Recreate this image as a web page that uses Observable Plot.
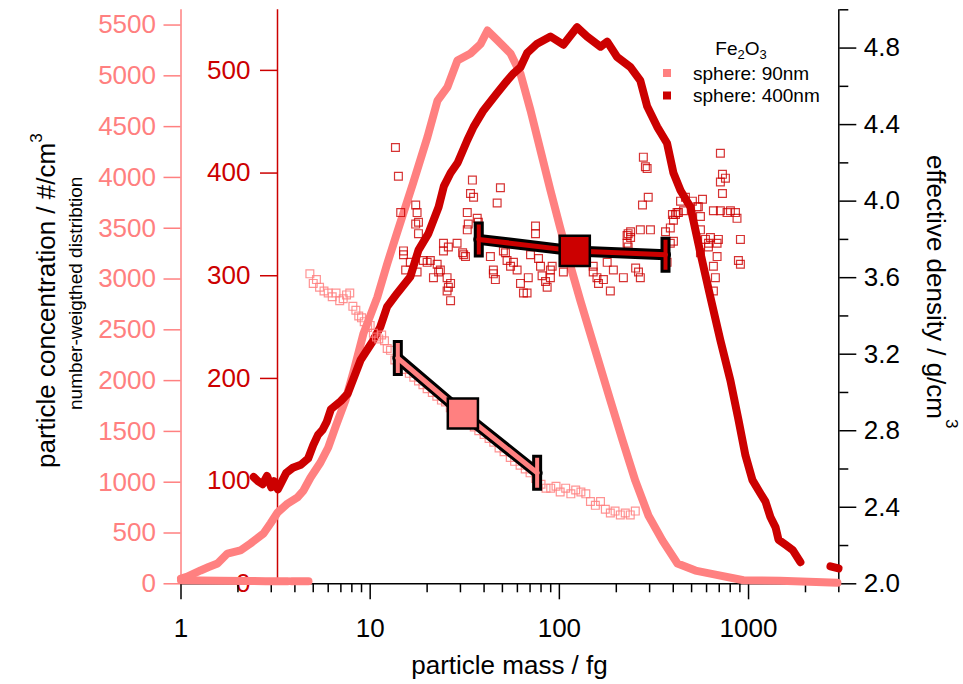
<!DOCTYPE html>
<html><head><meta charset="utf-8">
<script src="https://cdn.jsdelivr.net/npm/d3@7"></script>
<script src="https://cdn.jsdelivr.net/npm/@observablehq/plot@0.6"></script>
<style>body{margin:0;background:#fff} svg{display:block}</style>
</head><body><div id="chart"></div>
<script>
// ---------- data ----------
// 90 nm sphere: number-weighted distribution (particle concentration, #/cm3)
const pinkMass = [1.0,1.08,1.27,1.4,1.56,1.76,2.06,2.33,2.73,2.97,3.24,3.66,4.13,4.44,4.84,5.46,6.0,6.6,7.4,8.2,9.22,10.9,12.3,13.9,16.9,20.1,22.7,25.6,28.9,33.9,38.3,41.7,47.1,55.2,62.3,70.4,79.5,89.8,101,115,129,155,186,216,252,296,351,421,524,629,940,1470,2950];
const pinkConc = [52,70,131,165,200,298,328,397,495,594,702,790,850,918,1046,1194,1342,1560,1805,2100,2465,2820,3150,3460,3950,4400,4757,4888,5150,5220,5312,5446,5350,5220,5020,4660,4265,3870,3505,3115,2790,2295,1805,1410,1015,670,425,200,130,100,35,30,10];
const pinkFlat1Mass = [1.0,1.6,2.2,2.8,3.67];
const pinkFlat1Conc = [35,30,28,25,25];
const pinkFlat2Mass = [3.84,4.72];
const pinkFlat2Conc = [25,25];

// 400 nm sphere: number-weighted distribution (inner dark red axis)
const redMass = [2.42,2.55,2.7,2.85,3.0,3.1,3.25,3.4,3.6,3.9,4.3,4.7,5.0,5.3,5.6,5.9,6.2,7.0,7.6,8.9,10.3,11.3,12.3,13.9,16.3,18.0,20.3,23.0,24.5,26.6,29,32.6,35.2,39.7,46.9,53,57.2,62.3,67.6,76.3,89.8,105,124,140,165,179,202,238,268,291,329,371,401,437,493,557,629,710,802,884,963,1049,1156,1229,1305,1390,1440,1570,1710,1880];
const redConc = [104,100,97,105,94,100,92,99,108,113,116,122,135,145,150,158,170,178,185,218,236,250,270,283,299,325,341,367,387,400,410,432,445,461,478,490,497,503,517,526,533,525,542,533,523,528,513,503,490,465,445,429,400,383,367,322,279,237,198,160,125,101,88,80,65,55,43,38,33,21];
const redTailMass = [2710,2990];
const redTailConc = [17,15];

// effective density scatter (g/cm3)
const pinkScatterMass = [4.8,5.0,5.2,5.4,5.7,6.0,6.3,6.6,6.9,7.2,7.5,7.8,8.1,8.4,8.7,9.0,9.3,9.7,10.0,10.4,10.8,11.1,11.5,11.9,12.3,12.8,13.5,14.3,15.2,16.1,17.0,18.0,19.0,20.0,21.3,22.5,23.8,25.0,26.5,28.0,30,31.7,33.5,35.5,37.5,40,42.5,45,48,51,55,58,62,66,70,75,80,85,90,96,101,108,115,122,130,138,146,155,165,175,186,197,210,223,237,252];
const pinkScatterDen = [3.62,3.57,3.59,3.55,3.53,3.52,3.50,3.52,3.48,3.49,3.51,3.52,3.45,3.43,3.40,3.39,3.37,3.34,3.35,3.31,3.29,3.28,3.30,3.27,3.23,3.22,3.17,3.15,3.12,3.10,3.08,3.06,3.04,3.02,3.00,2.98,2.96,2.95,2.92,2.90,2.88,2.86,2.84,2.82,2.80,2.78,2.76,2.74,2.71,2.69,2.66,2.64,2.62,2.60,2.58,2.55,2.52,2.50,2.50,2.51,2.48,2.50,2.47,2.49,2.48,2.47,2.43,2.41,2.43,2.39,2.37,2.38,2.36,2.37,2.36,2.38];
const redScatterMass = [13.6,14.1,14.5,15.0,15.0,15.4,16.3,17.4,17.7,18.0,17.4,18.0,17.7,19.1,20.0,20.8,21.6,22.6,23.0,23.5,24.4,24.4,25.5,25.5,25.9,25.9,26.6,26.6,28.8,30.8,31.2,31.9,32.6,32.6,33.0,33.9,34.7,35.2,36.8,37.3,43.2,44.8,44.8,45.9,46.9,48.8,50.6,51.9,52.9,55.2,57.2,59.8,62.3,64.6,67.5,68.5,70.4,74.8,74.8,77.6,79.5,81.0,84.5,86.2,89.7,89.7,91.6,105,110,134,151,151,158,161,171,179,186,193,218,228,231,231,238,238,228,253,262,268,268,275,278,285,291,295,303,364,371,386,386,396,401,401,411,419,426,437,453,464,505,534,543,557,557,557,571,592,614,614,629,652,652,652,668,682,682,693,710,728,755,710,728,710,770,802,853,869,884,906,906];
const redScatterDen = [4.28,4.13,3.94,3.74,3.72,3.64,3.68,3.98,3.94,3.89,3.88,3.83,3.63,3.69,3.68,3.69,3.60,3.67,3.63,3.64,3.74,3.78,3.60,3.53,3.76,3.55,3.57,3.48,3.78,3.73,3.72,3.71,3.85,3.94,3.88,4.04,4.11,4.02,3.91,3.89,3.71,3.64,3.62,3.59,3.99,4.07,3.74,3.73,3.69,3.66,3.68,3.64,3.57,3.52,3.52,3.60,3.72,3.87,3.83,3.70,3.66,3.61,3.58,3.55,3.64,3.60,3.66,3.63,3.68,3.69,3.66,3.63,3.60,3.57,3.59,3.68,3.53,3.64,3.60,3.82,3.76,3.83,3.84,3.81,3.78,3.65,3.63,3.60,3.85,3.98,4.23,4.18,4.17,4.02,3.85,3.84,3.68,3.78,3.86,3.93,3.90,3.79,3.93,3.94,3.94,4.00,3.95,4.02,4.00,3.97,3.97,3.92,3.85,3.73,4.01,3.80,3.76,3.78,3.81,3.95,3.66,3.53,3.60,3.78,3.71,3.80,4.25,4.14,4.12,4.10,4.04,3.95,3.94,3.95,3.94,3.91,3.69,3.80,3.67];

// mean effective density with range (low, mean, high)
const fit90Mass = [14.0, 30.9, 76.3];
const fit90Den = [3.18, 2.89, 2.58];
const fit400Mass = [37.5, 120.6, 364];
const fit400Den = [3.80, 3.74, 3.72];

// ticks
const xMajor = [1,10,100,1000];
const xMinor = [2,3,4,5,6,7,8,9,20,30,40,50,60,70,80,90,200,300,400,500,600,700,800,900,2000,3000];
const pinkTicks = [0,500,1000,1500,2000,2500,3000,3500,4000,4500,5000,5500];
const redTicks = [0,100,200,300,400,500];
const denTicks = [2.0,2.4,2.8,3.2,3.6,4.0,4.4,4.8];
const denMinor = [2.2,2.6,3.0,3.4,3.8,4.2,4.6,5.0];

// ---------- scales / helpers ----------
const PINK = "#FF8080", RED = "#CC0000";
const FONT = "'Liberation Sans', Arial, Helvetica, sans-serif";
const Y_MAX = 5650, RED_MAX = 559, D_MIN = 2, D_MAX = 5;
const redK = Y_MAX / RED_MAX, denK = Y_MAX / (D_MAX - D_MIN);
const fromRed = c => c * redK, fromDen = d => (d - D_MIN) * denK;

const zip = (ms, vs) => ms.map((m, i) => ({m, v: vs[i]}));
const pinkCurve = zip(pinkMass, pinkConc);
const pinkFlat = [...zip(pinkFlat1Mass, pinkFlat1Conc).map(d => ({...d, z: 1})), ...zip(pinkFlat2Mass, pinkFlat2Conc).map(d => ({...d, z: 2}))];
const redCurve = [...zip(redMass, redConc).map(d => ({...d, z: 1})), ...zip(redTailMass, redTailConc).map(d => ({...d, z: 2}))];
const pinkScatter = zip(pinkScatterMass, pinkScatterDen);
const redScatter = zip(redScatterMass, redScatterDen);
const fit90 = zip(fit90Mass, fit90Den);
const fit400 = zip(fit400Mass, fit400Den);

const capSymbol = {draw(ctx) { ctx.moveTo(-3.5, -16.5); ctx.lineTo(3.5, -16.5); ctx.lineTo(3.5, 16.5); ctx.lineTo(-3.5, 16.5); ctx.closePath(); }};

function fitMarks(data, color) {
  const ends = [data[0], data[2]];
  const ctr = [data[1]];
  const y = d => fromDen(d.v);
  return [
    Plot.line(data, {x: "m", y, stroke: "#000", strokeWidth: 11}),
    Plot.dot(ends, {x: "m", y, symbol: capSymbol, r: 1, fill: color, stroke: "#000", strokeWidth: 3}),
    Plot.line(data, {x: "m", y, stroke: color, strokeWidth: 5}),
    Plot.dot(ctr, {x: "m", y, symbol: "square", r: 17, fill: color, stroke: "#000", strokeWidth: 2.5})
  ];
}

const chart = Plot.plot({
  width: 963, height: 684,
  marginLeft: 180.5, marginRight: 124.7, marginTop: 9.3, marginBottom: 100.7,
  style: {fontFamily: FONT, background: "#fff", overflow: "visible"},
  x: {type: "log", domain: [1, 3000], axis: null},
  y: {domain: [0, Y_MAX], axis: null},
  marks: [
    Plot.ruleX([1], {stroke: PINK, strokeWidth: 1.5}),
    Plot.ruleX([1], {stroke: RED, strokeWidth: 1.5, dx: 96.5}),
    Plot.ruleX([3000], {stroke: "#000", strokeWidth: 1.5}),
    Plot.ruleY([0], {stroke: "#000", strokeWidth: 1.5}),
    Plot.axisY(pinkTicks, {anchor: "left", tickSize: 17, tickPadding: 8, color: PINK, strokeWidth: 1.5, fontSize: 26, label: null, tickFormat: d => String(d)}),
    Plot.axisY(redTicks.map(fromRed), {anchor: "left", dx: 96.5, tickSize: 17, tickPadding: 10, color: RED, strokeWidth: 1.5, fontSize: 26, label: null, tickFormat: v => String(Math.round(v / redK))}),
    Plot.axisY(denTicks.map(fromDen), {anchor: "right", tickSize: 17, tickPadding: 8, color: "#000", strokeWidth: 1.5, fontSize: 26, label: null, tickFormat: v => (v / denK + D_MIN).toFixed(1)}),
    Plot.axisY(denMinor.map(fromDen), {anchor: "right", tickSize: 9, color: "#000", strokeWidth: 1.5, label: null, tickFormat: () => ""}),
    Plot.axisX(xMajor, {anchor: "bottom", tickSize: 16, tickPadding: 19, color: "#000", strokeWidth: 1.5, fontSize: 26, label: null, tickFormat: d => String(d)}),
    Plot.axisX(xMinor, {anchor: "bottom", tickSize: 9, color: "#000", strokeWidth: 1.5, label: null, tickFormat: () => ""}),

    Plot.line(pinkCurve, {x: "m", y: "v", stroke: PINK, strokeWidth: 8, strokeLinejoin: "round"}),
    Plot.line(pinkFlat, {x: "m", y: "v", z: "z", stroke: PINK, strokeWidth: 8}),
    Plot.line(redCurve, {x: "m", y: d => fromRed(d.v), z: "z", stroke: RED, strokeWidth: 8, strokeLinejoin: "round"}),
    Plot.dot(pinkScatter, {x: "m", y: d => fromDen(d.v), symbol: "square", r: 4.4, stroke: PINK, strokeWidth: 1.2, fill: "none", strokeOpacity: 0.85}),
    Plot.dot(redScatter, {x: "m", y: d => fromDen(d.v), symbol: "square", r: 4.4, stroke: RED, strokeWidth: 1.2, fill: "none", strokeOpacity: 0.8}),
    ...fitMarks(fit90, PINK),
    ...fitMarks(fit400, RED)
  ]
});

const svg = d3.select(chart);
const T = (x, y, size, anchor) => svg.append("text").attr("x", x).attr("y", y)
  .attr("font-family", FONT).attr("font-size", size).attr("text-anchor", anchor || "start").attr("fill", "#000");

// x title
T(509.5, 674, 26, "middle").text("particle mass / fg");
// left titles
const lt = T(0, 0, 26).attr("transform", "translate(55,468) rotate(-90)");
lt.append("tspan").text("particle concentration / #/cm");
lt.append("tspan").attr("font-size", 17).attr("dy", -13).text("3");
T(0, 0, 19).attr("transform", "translate(82,410) rotate(-90)").text("number-weigthed distribtion");
// right title
const rt = T(0, 0, 26).attr("transform", "translate(927,155) rotate(90)");
rt.append("tspan").text("effective density / g/cm");
rt.append("tspan").attr("font-size", 17).attr("dy", -19).text("3");

// legend
const fe = T(741, 55, 19, "middle");
fe.append("tspan").text("Fe");
fe.append("tspan").attr("font-size", 13).attr("dy", 4).text("2");
fe.append("tspan").attr("dy", -4).text("O");
fe.append("tspan").attr("font-size", 13).attr("dy", 4).text("3");
svg.append("rect").attr("x", 663).attr("y", 69).attr("width", 8).attr("height", 8).attr("fill", PINK);
T(693, 80, 19).text("sphere: 90nm");
svg.append("rect").attr("x", 663).attr("y", 91.5).attr("width", 8).attr("height", 8).attr("fill", RED);
T(693, 102, 19).text("sphere: 400nm");

document.getElementById("chart").appendChild(chart);
</script>
</body></html>
